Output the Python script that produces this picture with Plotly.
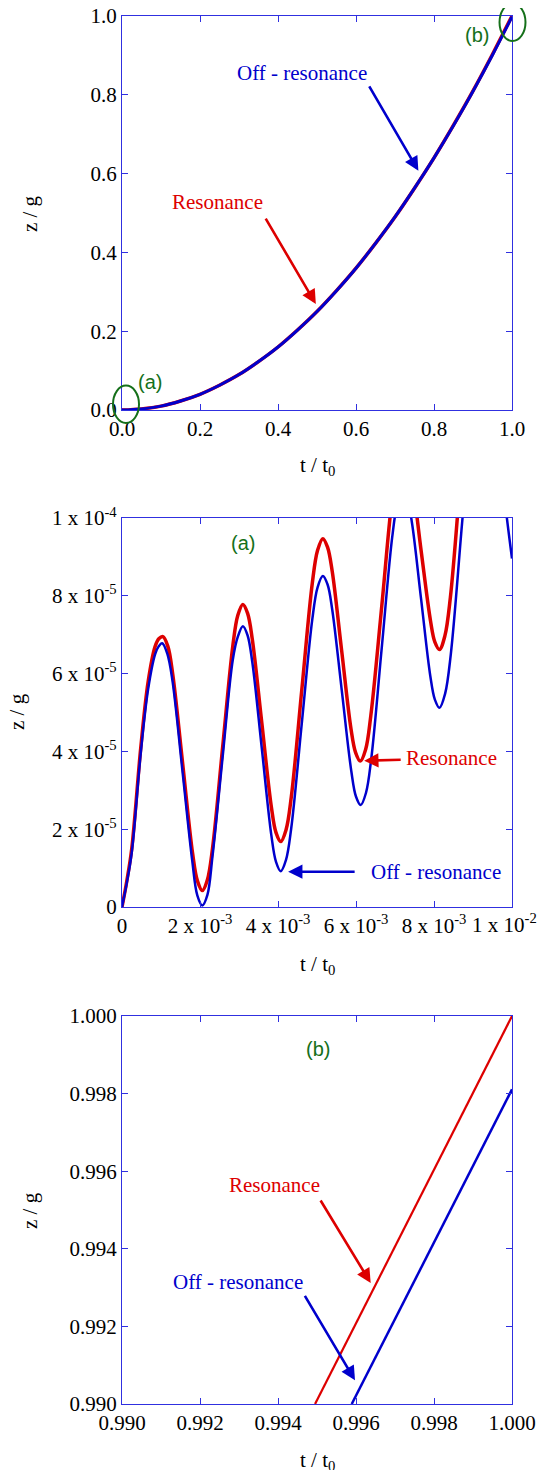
import numpy as np
import plotly.graph_objects as go

# ---------------- data ----------------
# Panel 1 : full range
t_full = [0.0, 0.05, 0.10, 0.15, 0.20, 0.25, 0.30, 0.35, 0.40, 0.45, 0.50,
          0.55, 0.60, 0.65, 0.70, 0.75, 0.80, 0.85, 0.90, 0.95, 1.00]
z_full_res = [0.0, 0.003, 0.010, 0.023, 0.040, 0.063, 0.090, 0.123, 0.160, 0.203, 0.250,
              0.303, 0.360, 0.423, 0.490, 0.563, 0.640, 0.723, 0.810, 0.903, 1.000]
z_full_off = [0.0, 0.003, 0.010, 0.023, 0.040, 0.063, 0.090, 0.123, 0.160, 0.203, 0.250,
              0.303, 0.360, 0.423, 0.490, 0.563, 0.640, 0.722, 0.809, 0.901, 0.998]

# Panel 2 (a) : early times  (t in units of 1e-3, z in units of 1e-6)
t_a_res = [0, 0.12, 0.25, 0.48, 0.67, 0.85, 0.95, 1.05,
           1.176, 1.30, 1.555, 1.81, 1.934, 2.06,
           2.19, 2.32, 2.58, 2.84, 2.97, 3.10,
           3.221, 3.34, 3.585, 3.83, 3.949, 4.07,
           4.205, 4.34, 4.61, 4.88, 5.015, 5.15,
           5.27, 5.39, 5.63, 5.87, 5.99, 6.11,
           6.247, 6.38, 6.66, 6.93, 7.068, 7.205,
           7.322, 7.44, 7.67, 7.91, 8.023, 8.14,
           8.279, 8.42, 8.695, 8.97, 9.111, 9.25,
           9.40, 9.55, 9.80, 10.0]
z_a_res = [0, 6.5, 15.0, 40.8, 57.9, 67.0, 69.0, 69.5,
           67.0, 59.9, 36.9, 13.8, 6.7, 4.2,
           7.0, 15.0, 41.0, 67.0, 75.0, 77.8,
           75.5, 68.9, 47.3, 25.7, 19.1, 16.8,
           19.8, 28.2, 55.8, 83.3, 91.7, 94.7,
           92.5, 86.3, 66.1, 45.9, 39.7, 37.5,
           40.5, 49.2, 77.3, 105.4, 114.0, 117.0,
           115.1, 109.6, 91.6, 73.6, 68.1, 66.2,
           69.7, 79.6, 112.1, 144.6, 154.5, 158.0,
           156.0, 150.0, 134.0, 120.0]

t_a_off = [0, 0.12, 0.25, 0.48, 0.67, 0.85, 0.94, 1.03,
           1.159, 1.29, 1.55, 1.80, 1.931, 2.06,
           2.19, 2.32, 2.58, 2.84, 2.97, 3.10,
           3.221, 3.34, 3.585, 3.83, 3.949, 4.07,
           4.205, 4.34, 4.61, 4.88, 5.015, 5.15,
           5.271, 5.39, 5.635, 5.88, 5.999, 6.12,
           6.255, 6.39, 6.66, 6.93, 7.065, 7.20,
           7.3175, 7.435, 7.67, 7.905, 8.0225, 8.14,
           8.284, 8.43, 8.715, 9.00, 9.146, 9.29,
           9.42, 9.55, 9.80, 10.0]
z_a_off = [0, 6.0, 14.0, 39.5, 56.0, 65.0, 67.0, 67.8,
           65.2, 58.5, 35.0, 12.0, 3.0, 0.4,
           3.1, 13.0, 38.5, 63.5, 69.5, 72.2,
           69.8, 63.0, 40.7, 18.4, 11.6, 9.2,
           12.1, 20.3, 47.2, 74.0, 82.2, 85.1,
           82.9, 76.5, 55.7, 34.9, 28.4, 26.2,
           29.3, 38.0, 66.6, 95.2, 103.9, 107.0,
           104.9, 98.8, 79.1, 59.4, 53.3, 51.2,
           54.8, 64.9, 98.1, 131.3, 141.4, 145.0,
           142.0, 133.0, 106.0, 89.6]

# Panel 3 (b) : end of the run
t_b_res = [0.99495, 1.000]
z_b_res = [0.990, 1.000]
t_b_off = [0.99589, 1.000]
z_b_off = [0.990, 0.99811]

# tick labels for panel 2 (the last x label is drawn right-aligned as an annotation)
a_xticks = [0, 0.002, 0.004, 0.006, 0.008, 0.010]
a_xtext = ["0", "2 x 10<sup>-3</sup>", "4 x 10<sup>-3</sup>", "6 x 10<sup>-3</sup>",
           "8 x 10<sup>-3</sup>", "1 x 10<sup>-2</sup>"]
a_yticks = [0, 2e-5, 4e-5, 6e-5, 8e-5, 1e-4]
a_ytext = ["0", "2 x 10<sup>-5</sup>", "4 x 10<sup>-5</sup>", "6 x 10<sup>-5</sup>",
           "8 x 10<sup>-5</sup>", "1 x 10<sup>-4</sup>"]

# ---------------- styles ----------------
RED = "#dd0000"
BLUE = "#0000cc"
AXC = "#3030e0"
GREEN = "#15701a"
SERIF = "Liberation Serif, Times New Roman, serif"
SANS = "Liberation Sans, Arial, sans-serif"
FS = 21

fig = go.Figure()

# panel 1
fig.add_trace(go.Scatter(x=t_full, y=z_full_res, mode="lines", line=dict(color=RED, width=3.5, shape="spline"),
                         xaxis="x", yaxis="y", showlegend=False))
fig.add_trace(go.Scatter(x=t_full, y=z_full_off, mode="lines", line=dict(color=BLUE, width=3, shape="spline"),
                         xaxis="x", yaxis="y", showlegend=False))
# panel 2
fig.add_trace(go.Scatter(x=np.array(t_a_res) * 1e-3, y=np.array(z_a_res) * 1e-6, mode="lines",
                         line=dict(color=RED, width=3.5, shape="spline", smoothing=1.0),
                         xaxis="x2", yaxis="y2", showlegend=False))
fig.add_trace(go.Scatter(x=np.array(t_a_off) * 1e-3, y=np.array(z_a_off) * 1e-6, mode="lines",
                         line=dict(color=BLUE, width=2.5, shape="spline", smoothing=1.0),
                         xaxis="x2", yaxis="y2", showlegend=False))
# panel 3
fig.add_trace(go.Scatter(x=t_b_res, y=z_b_res, mode="lines", line=dict(color=RED, width=2.2),
                         xaxis="x3", yaxis="y3", showlegend=False))
fig.add_trace(go.Scatter(x=t_b_off, y=z_b_off, mode="lines", line=dict(color=BLUE, width=2.5),
                         xaxis="x3", yaxis="y3", showlegend=False))

axis_common = dict(showline=True, linecolor=AXC, linewidth=1.2, mirror="ticks",
                   ticks="inside", ticklen=6, tickwidth=1.2, tickcolor=AXC,
                   showgrid=False, zeroline=False, automargin=False,
                   ticklabeloverflow="allow",
                   tickfont=dict(family=SERIF, size=FS, color="black"))

d1 = [0.7161, 1.0]
d2 = [0.3581, 0.6383]
d3 = [0.0, 0.2795]

x2_ticktext = a_xtext[:-1] + [""]

# the page body adds an 8 px offset, compensated in the margins
fig.update_layout(
    template="none",
    width=545, height=1470,
    margin=dict(l=114, r=41, t=8, b=74, autoexpand=False),
    paper_bgcolor="white", plot_bgcolor="white",
    xaxis=dict(domain=[0, 1], anchor="y", range=[0, 1], dtick=0.2, tickformat=".1f", **axis_common),
    yaxis=dict(domain=d1, anchor="x", range=[0, 1], dtick=0.2, tickformat=".1f", **axis_common),
    xaxis2=dict(domain=[0, 1], anchor="y2", range=[0, 0.01], tickvals=a_xticks, ticktext=x2_ticktext, **axis_common),
    yaxis2=dict(domain=d2, anchor="x2", range=[0, 1e-4], tickvals=a_yticks, ticktext=a_ytext, **axis_common),
    xaxis3=dict(domain=[0, 1], anchor="y3", range=[0.99, 1.0], dtick=0.002, tickformat=".3f", **axis_common),
    yaxis3=dict(domain=d3, anchor="x3", range=[0.99, 1.0], dtick=0.002, tickformat=".3f", **axis_common),
)

ann = []

def txt(x, y, text, color, xref, yref, family=SERIF, size=FS, angle=0, xanchor="center", yanchor="middle"):
    ann.append(dict(x=x, y=y, xref=xref, yref=yref, text=text, showarrow=False,
                    font=dict(family=family, size=size, color=color),
                    xanchor=xanchor, yanchor=yanchor, textangle=angle))

def arrow(x, y, ax, ay, color, xref, yref):
    ann.append(dict(x=x, y=y, xref=xref, yref=yref, text="", showarrow=True,
                    ax=ax, ay=ay, arrowhead=2, arrowsize=1.1, arrowwidth=2.6,
                    arrowcolor=color, standoff=0))

# last x tick label of panel 2, kept inside the page
txt(1.068, 0.3575, a_xtext[-1], "black", "paper", "paper", xanchor="right", yanchor="top")

# axis titles
for yc, xc in [(0.858, -0.2359), (0.4986, -0.2692), (0.1398, -0.2359)]:
    txt(xc, yc, "z / g", "black", "paper", "paper", angle=-90)
for yc in [0.676, 0.316, -0.041]:
    txt(0.5, yc, "t / t<sub>0</sub>", "black", "paper", "paper")

# panel 1 annotations
txt(0.4615, 0.8546, "Off - resonance", BLUE, "x", "y")
arrow(0.760, 0.607, -50, -86, BLUE, "x", "y")
txt(0.246, 0.527, "Resonance", RED, "x", "y")
arrow(0.497, 0.269, -51, -87, RED, "x", "y")
txt(0.0718, 0.071, "(a)", GREEN, "x", "y", family=SANS, size=20)
txt(0.910, 0.952, "(b)", GREEN, "x", "y", family=SANS, size=20)

# panel 2 annotations
txt(3.095e-3, 93.6e-6, "(a)", GREEN, "x2", "y2", family=SANS, size=20)
txt(8.46e-3, 38.3e-6, "Resonance", RED, "x2", "y2")
arrow(6.21e-3, 37.6e-6, 38, -1, RED, "x2", "y2")
txt(8.04e-3, 9.0e-6, "Off - resonance", BLUE, "x2", "y2")
arrow(4.26e-3, 9.07e-6, 68, 0, BLUE, "x2", "y2")

# panel 3 annotations
txt(0.995026, 0.999156, "(b)", GREEN, "x3", "y3", family=SANS, size=20)
txt(0.99391, 0.99564, "Resonance", RED, "x3", "y3")
arrow(0.996377, 0.993119, -51, -84, RED, "x3", "y3")
txt(0.992987, 0.993145, "Off - resonance", BLUE, "x3", "y3")
arrow(0.995974, 0.990609, -51, -86, BLUE, "x3", "y3")

fig.update_layout(annotations=ann)

# green ellipses marking regions (a) and (b) (paper coords so they are not clipped)
fig.add_shape(type="circle", xref="paper", yref="paper", x0=-0.0231, x1=0.0436, y0=0.7068, y1=0.7337,
              line=dict(color=GREEN, width=2))
fig.add_shape(type="circle", xref="paper", yref="paper", x0=0.968, x1=1.0346, y0=0.982, y1=1.009,
              line=dict(color=GREEN, width=2))

fig.write_html("out.html")
